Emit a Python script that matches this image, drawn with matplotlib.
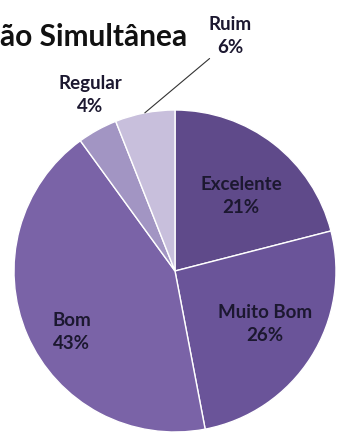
import numpy as np
import matplotlib.pyplot as plt

categories = ["Excelente", "Muito Bom", "Bom", "Regular", "Ruim"]
percent = [21, 26, 43, 4, 6]
colors = ["#5f4a8a", "#6a5499", "#7a63a7", "#a295c3", "#c8bfdc"]

# label centres, in pie-radius units from the centre
label_xy = [(0.41, 0.466), (0.56, -0.33), (-0.64, -0.38), (-0.528, 1.093), (0.342, 1.46)]

plt.rcParams["font.family"] = ["Lato", "DejaVu Sans"]

fig = plt.figure(figsize=(3.37, 4.34), dpi=100)
W, H = 337, 434
cx, cy, r = 175, 271, 161
ax = fig.add_axes([(cx - r) / W, (H - cy - r) / H, 2 * r / W, 2 * r / H])

wedges, _ = ax.pie(percent, colors=colors, startangle=90, counterclock=False,
                   wedgeprops=dict(edgecolor="white", linewidth=1.0))
ax.set_xlim(-1, 1)
ax.set_ylim(-1, 1)
ax.set_aspect("equal")
ax.axis("off")

txt_kw = dict(ha="center", va="center", fontsize=13.5, fontweight="bold",
              color="#1c1830", linespacing=1.4)

for w, name, p, xy in zip(wedges, categories, percent, label_xy):
    txt = f"{name}\n{p}%"
    if name == "Ruim":
        ang = np.deg2rad((w.theta1 + w.theta2) / 2)
        ax.annotate(txt, xy=(np.cos(ang), np.sin(ang)), xytext=xy,
                    annotation_clip=False,
                    arrowprops=dict(arrowstyle="-", color="#333333", lw=0.8,
                                    shrinkA=0, shrinkB=0,
                                    connectionstyle="angle,angleA=0,angleB=40,rad=0",
                                    relpos=(0.2, 0.0)),
                    **txt_kw)
    else:
        ax.text(xy[0], xy[1], txt, **txt_kw)

fig.text(0 / W, 1 - 37 / H, "ão Simultânea", ha="left", va="center",
         fontsize=21.5, fontweight="bold", color="#111111")

fig.savefig("out.png", dpi=100)
